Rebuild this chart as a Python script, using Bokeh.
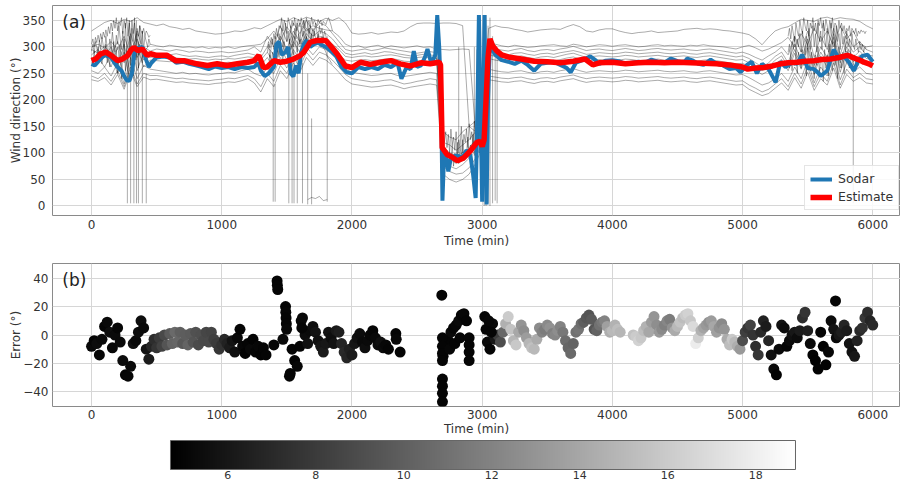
import numpy as np
from bokeh.plotting import figure
from bokeh.layouts import column
from bokeh.models import Range1d, FixedTicker, LinearColorMapper, Label, ColumnDataSource
from bokeh.palettes import Greys256
from bokeh.transform import linear_cmap
from bokeh.core.properties import value
from bokeh.embed import file_html
from bokeh.resources import INLINE

# ---------------------------------------------------------------- data
# ensemble members, sampled every 50 min from 0 to 6000 min
T_ENS = list(range(0, 6001, 50))

m1 = [330, 338, 346, 350, 344, 352, 348, 355, 346, 343,
      340, 343, 338, 336, 333, 335, 330, 328, 326, 324,
      325, 327, 330, 329, 332, 336, 334, 340, 346, 352,
      348, 355, 350, 356, 352, 348, 354, 350, 355, 345,
      326, 324, 325, 327, 324, 326, 328, 327, 330, 338,
      344, 345, 345, 344, 345, 345, 344, 340, 150, 140,
      170, 335, 340, 337, 336, 333, 331, 328, 330, 332,
      333, 334, 333, 338, 342, 338, 330, 328, 332, 334,
      334, 330, 327, 325, 327, 328, 330, 327, 328, 329,
      330, 333, 334, 335, 333, 334, 333, 331, 330, 328,
      326, 323, 315, 304, 318, 330, 335, 338, 345, 352,
      350, 348, 354, 356, 352, 355, 353, 352, 348, 340,
      334]
m2 = [300, 305, 298, 310, 295, 320, 285, 330, 290, 305,
      302, 300, 303, 301, 299, 300, 298, 300, 297, 299,
      298, 300, 297, 300, 302, 303, 305, 315, 330, 312,
      338, 320, 345, 330, 340, 335, 332, 330, 320, 305,
      300, 302, 298, 301, 303, 299, 302, 300, 298, 300,
      302, 299, 300, 296, 295, 294, 295, 296, 295, 140,
      150, 310, 305, 302, 300, 303, 301, 299, 300, 302,
      303, 304, 302, 301, 305, 303, 300, 302, 304, 303,
      301, 303, 304, 302, 300, 301, 303, 304, 302, 303,
      302, 301, 303, 302, 304, 302, 301, 300, 298, 296,
      300, 303, 298, 292, 296, 302, 308, 318, 300, 325,
      305, 335, 310, 330, 300, 340, 315, 330, 305, 300,
      302]
m3 = [295, 288, 302, 285, 310, 270, 325, 280, 300, 292,
      296, 294, 292, 295, 293, 290, 292, 291, 289, 290,
      291, 289, 290, 292, 294, 300, 290, 320, 300, 340,
      310, 345, 325, 350, 330, 345, 340, 325, 310, 295,
      292, 294, 296, 293, 295, 298, 296, 294, 292, 290,
      288, 290, 291, 289, 140, 130, 125, 140, 150, 160,
      175, 300, 296, 294, 292, 295, 297, 293, 291, 294,
      295, 293, 296, 298, 301, 297, 293, 295, 296, 294,
      293, 295, 297, 295, 293, 294, 296, 297, 295, 294,
      295, 296, 294, 293, 295, 296, 294, 292, 290, 288,
      290, 286, 280, 275, 283, 290, 300, 285, 320, 290,
      330, 280, 320, 295, 335, 285, 325, 300, 310, 295,
      290]
m4 = [285, 295, 280, 300, 265, 305, 250, 315, 275, 288,
      287, 286, 285, 287, 284, 282, 283, 281, 280, 282,
      283, 281, 284, 286, 288, 285, 280, 300, 285, 320,
      295, 330, 310, 335, 320, 330, 325, 315, 300, 288,
      285, 287, 289, 286, 288, 291, 290, 287, 285, 283,
      284, 286, 285, 283, 120, 115, 105, 115, 125, 140,
      165, 292, 288, 286, 285, 288, 289, 286, 284, 287,
      288, 286, 289, 291, 293, 290, 286, 287, 289, 288,
      287, 288, 290, 289, 287, 288, 289, 290, 288, 287,
      288, 289, 287, 286, 288, 289, 287, 285, 283, 281,
      283, 278, 270, 262, 270, 282, 290, 270, 305, 275,
      315, 265, 300, 280, 325, 270, 310, 290, 300, 285,
      283]
m5 = [278, 270, 290, 262, 300, 240, 310, 255, 290, 280,
      282, 280, 281, 279, 278, 277, 278, 276, 275, 277,
      276, 278, 277, 279, 281, 280, 275, 290, 270, 310,
      285, 320, 300, 325, 310, 320, 315, 305, 295, 282,
      280, 282, 283, 281, 282, 284, 285, 283, 280, 279,
      280, 281, 279, 278, 110, 100, 95, 100, 110, 125,
      150, 285, 282, 280, 279, 281, 283, 280, 278, 281,
      282, 280, 283, 286, 288, 284, 280, 282, 283, 282,
      281, 282, 284, 283, 281, 282, 283, 284, 282, 281,
      282, 283, 281, 280, 282, 283, 281, 279, 277, 275,
      276, 270, 262, 255, 262, 275, 283, 262, 295, 265,
      305, 255, 290, 270, 318, 260, 300, 280, 292, 278,
      276]
m6 = [270, 280, 262, 285, 250, 290, 235, 300, 262, 275,
      274, 273, 272, 274, 271, 270, 271, 269, 268, 270,
      269, 271, 270, 272, 275, 270, 265, 280, 260, 300,
      275, 310, 290, 318, 300, 312, 308, 298, 285, 275,
      273, 275, 276, 274, 275, 277, 278, 276, 273, 272,
      273, 274, 272, 271, 100, 90, 80, 88, 100, 115,
      140, 278, 275, 273, 272, 274, 276, 273, 271, 274,
      275, 273, 276, 279, 281, 277, 273, 275, 276, 275,
      274, 275, 277, 276, 274, 275, 276, 277, 275, 274,
      275, 276, 274, 273, 275, 276, 274, 272, 270, 268,
      269, 263, 255, 248, 255, 268, 276, 255, 288, 258,
      298, 248, 283, 262, 310, 252, 292, 272, 285, 270,
      268]
m7 = [255, 250, 262, 245, 270, 230, 280, 240, 265, 258,
      256, 254, 252, 250, 252, 249, 250, 248, 247, 249,
      250, 252, 251, 255, 258, 250, 245, 260, 250, 280,
      260, 295, 275, 300, 285, 300, 295, 285, 272, 258,
      252, 250, 248, 246, 247, 249, 250, 246, 244, 246,
      248, 250, 252, 250, 90, 75, 70, 78, 90, 105,
      130, 258, 255, 253, 252, 254, 255, 252, 250, 253,
      254, 252, 255, 257, 259, 255, 252, 254, 255, 254,
      253, 254, 256, 255, 253, 254, 255, 256, 254, 253,
      254, 255, 253, 252, 254, 255, 253, 251, 249, 247,
      248, 242, 235, 228, 232, 240, 250, 235, 262, 240,
      275, 232, 262, 245, 285, 238, 270, 252, 262, 250,
      248]
m8 = [245, 240, 250, 235, 255, 225, 262, 230, 250, 246,
      246, 244, 242, 240, 241, 239, 238, 237, 236, 238,
      239, 241, 240, 243, 246, 240, 225, 250, 235, 265,
      250, 280, 262, 290, 275, 290, 285, 275, 262, 248,
      240, 238, 236, 234, 235, 237, 238, 234, 230, 232,
      235, 237, 240, 238, 75, 65, 60, 62, 72, 90,
      120, 245, 243, 241, 240, 242, 243, 240, 238, 241,
      242, 240, 243, 245, 247, 243, 240, 242, 243, 242,
      241, 242, 244, 243, 241, 242, 243, 244, 242, 241,
      242, 243, 241, 240, 242, 243, 241, 239, 237, 235,
      236, 228, 222, 215, 220, 230, 240, 225, 250, 230,
      262, 225, 250, 235, 270, 228, 258, 242, 250, 240,
      238]
m9 = [238, 235, 242, 228, 248, 220, 255, 225, 243, 238,
      239, 237, 235, 233, 234, 232, 231, 230, 229, 231,
      232, 234, 233, 236, 240, 232, 215, 240, 225, 255,
      240, 270, 252, 280, 265, 280, 275, 265, 252, 238,
      230, 228, 226, 224, 225, 227, 228, 225, 221, 224,
      226, 228, 230, 228, 60, 50, 45, 50, 60, 80,
      110, 238, 236, 234, 233, 235, 236, 233, 231, 234,
      235, 233, 236, 238, 240, 236, 233, 235, 236, 235,
      234, 235, 237, 236, 234, 235, 236, 237, 235, 234,
      235, 236, 234, 233, 235, 236, 234, 232, 230, 228,
      229, 220, 214, 208, 212, 222, 232, 218, 242, 222,
      252, 218, 240, 228, 260, 222, 248, 235, 242, 232,
      230]
members = [m1, m2, m3, m4, m5, m6, m7, m8, m9]

# gusty spells: members sampled every 10 min
T_GUST_1 = list(range(0, 451, 10))
g1a = [292, 305, 288, 310, 298, 285, 312, 295, 318, 302,
       290, 320, 298, 285, 315, 300, 328, 305, 290, 322,
       305, 340, 315, 295, 330, 285, 345, 300, 320, 350,
       290, 335, 310, 355, 300, 325, 285, 340, 305, 330,
       295, 320, 310, 300, 315, 305]
g1b = [280, 270, 292, 265, 285, 300, 275, 290, 268, 295,
       280, 305, 270, 290, 262, 300, 278, 310, 265, 295,
       250, 285, 305, 240, 290, 315, 255, 300, 235, 320,
       265, 295, 245, 310, 275, 290, 260, 305, 280, 270,
       295, 285, 275, 290, 280, 286]
g1c = [305, 315, 300, 318, 308, 322, 310, 325, 315, 328,
       318, 332, 320, 338, 325, 345, 330, 350, 335, 355,
       330, 348, 340, 355, 325, 350, 335, 355, 320, 345,
       310, 350, 325, 345, 310, 335, 320, 340, 330, 325,
       335, 320, 330, 325, 318, 322]

T_GUST_2 = list(range(1350, 1851, 10))
g2a = [290, 305, 280, 300, 315, 295, 320, 305, 290, 325,
       310, 335, 300, 320, 345, 310, 330, 305, 340, 320,
       300, 335, 315, 345, 325, 305, 340, 320, 350, 330,
       310, 345, 325, 340, 315, 335, 320, 345, 330, 310,
       340, 325, 335, 315, 330, 320, 310, 300, 295, 290,
       285]
g2b = [270, 260, 285, 265, 290, 275, 300, 270, 295, 280,
       305, 285, 275, 310, 290, 300, 280, 315, 295, 305,
       285, 320, 300, 290, 325, 305, 315, 295, 330, 310,
       320, 300, 335, 315, 325, 305, 330, 318, 310, 325,
       312, 305, 320, 300, 295, 290, 282, 278, 275, 270,
       268]
g2c = [300, 310, 298, 318, 305, 325, 315, 335, 320, 340,
       335, 355, 330, 350, 340, 325, 355, 345, 335, 350,
       340, 355, 330, 348, 352, 338, 355, 342, 350, 335,
       355, 345, 350, 338, 356, 342, 350, 345, 340, 352,
       345, 350, 340, 348, 345, 342, 350, 355, 348, 340,
       330]

T_GUST_3 = list(range(2700, 3001, 10))
g3a = [150, 120, 140, 110, 135, 100, 145, 115, 130, 105,
       140, 95, 125, 110, 150, 100, 135, 120, 145, 110,
       155, 125, 140, 115, 160, 130, 150, 120, 165, 140,
       170]
g3b = [90, 110, 80, 105, 70, 95, 85, 115, 75, 100,
       90, 120, 80, 110, 95, 125, 85, 105, 100, 130,
       90, 115, 105, 135, 95, 120, 110, 140, 100, 125,
       150]

T_GUST_4 = list(range(5350, 5951, 10))
g4a = [290, 305, 280, 310, 295, 320, 285, 315, 300, 325,
       290, 330, 305, 285, 320, 300, 335, 295, 315, 340,
       300, 325, 290, 345, 310, 330, 295, 350, 315, 300,
       335, 290, 320, 345, 305, 330, 285, 340, 310, 325,
       295, 335, 305, 320, 290, 330, 300, 315, 285, 325,
       305, 295, 315, 300, 290, 310, 295, 305, 290, 300,
       295]
g4b = [270, 260, 280, 255, 275, 265, 285, 250, 290, 270,
       260, 295, 265, 280, 245, 300, 270, 255, 290, 275,
       240, 285, 265, 300, 250, 280, 270, 235, 295, 260,
       285, 245, 305, 270, 255, 290, 265, 280, 240, 300,
       275, 260, 290, 250, 285, 270, 295, 260, 280, 275,
       265, 285, 270, 280, 265, 275, 270, 280, 272, 268,
       270]
g4c = [320, 335, 315, 340, 325, 310, 345, 330, 320, 350,
       335, 325, 355, 340, 330, 350, 320, 345, 335, 355,
       330, 345, 325, 350, 340, 355, 335, 345, 330, 352,
       340, 325, 350, 335, 355, 330, 345, 340, 325, 350,
       335, 345, 330, 340, 325, 335, 330, 340, 320, 335,
       330, 325, 335, 320, 330, 325, 332, 328, 330, 325,
       330]

gusts = [(T_GUST_1, g1a), (T_GUST_1, g1b), (T_GUST_1, g1c),
         (T_GUST_2, g2a), (T_GUST_2, g2b), (T_GUST_2, g2c),
         (T_GUST_3, g3a), (T_GUST_3, g3b),
         (T_GUST_4, g4a), (T_GUST_4, g4b), (T_GUST_4, g4c)]

# members jumping across north (360 -> 0): time, lower and upper end
wrap_t = [275, 300, 325, 345, 360, 390, 420,
          1395, 1410, 1515, 1540, 1555, 1580, 1620, 1660, 1690, 1810,
          2820, 2940, 2960, 3015, 3030, 3045, 3060, 3080, 3100, 3115, 5850]
wrap_lo = [5, 5, 5, 5, 5, 5, 5,
           8, 8, 5, 5, 5, 5, 5, 3, 3, 8,
           100, 110, 110, 0, 0, 5, 0, 5, 10, 5, 5]
wrap_hi = [240, 290, 300, 350, 310, 330, 250,
           260, 230, 300, 320, 290, 310, 270, 250, 165, 320,
           300, 300, 295, 350, 360, 340, 355, 320, 300, 280, 260]

# one member sitting just east of north for a while
low_t = [1660, 1690, 1720, 1750, 1780, 1810]
low_v = [12, 16, 14, 18, 10, 12]

# sodar wind direction (deg)
sod_t = [0, 25, 50, 100, 150, 175, 200, 230, 250, 270,
         290, 310, 330, 360, 390, 420, 440, 460, 500, 550,
         600, 650, 700, 750, 800, 850, 900, 950, 1000, 1050,
         1100, 1150, 1200, 1250, 1280, 1300, 1330, 1360, 1400, 1420,
         1440, 1460, 1490, 1510, 1530, 1550, 1570, 1590, 1610, 1630,
         1650, 1680, 1710, 1740, 1770, 1800, 1840, 1880, 1920, 1960,
         2000, 2050, 2100, 2150, 2200, 2250, 2300, 2350, 2380, 2420,
         2450, 2475, 2500, 2530, 2560, 2580, 2610, 2640, 2655, 2670,
         2685, 2695, 2705, 2720, 2740, 2760, 2800, 2850, 2880, 2910,
         2930, 2950, 2965, 2975, 2990, 3000, 3010, 3018, 3027, 3034,
         3045, 3060, 3080, 3100, 3150, 3200, 3250, 3300, 3350, 3400,
         3450, 3500, 3550, 3600, 3650, 3680, 3720, 3780, 3830, 3870,
         3900, 3950, 4000, 4050, 4100, 4150, 4200, 4250, 4300, 4350,
         4400, 4450, 4500, 4550, 4575, 4620, 4660, 4700, 4755, 4800,
         4850, 4900, 4950, 4985, 5030, 5070, 5110, 5150, 5200, 5254,
         5290, 5330, 5380, 5420, 5458, 5500, 5548, 5586, 5600, 5650,
         5700, 5740, 5780, 5820, 5855, 5890, 5920, 5960, 6000]
sod_v = [268, 265, 272, 285, 280, 270, 262, 255, 245, 237,
         236, 250, 292, 298, 300, 275, 262, 270, 280, 282,
         280, 270, 272, 268, 265, 262, 258, 263, 260, 262,
         258, 262, 260, 262, 270, 255, 245, 250, 262, 305,
         310, 285, 290, 300, 250, 244, 265, 250, 290, 305,
         312, 300, 305, 308, 303, 300, 292, 282, 262, 252,
         250, 262, 258, 262, 258, 266, 262, 270, 240, 262,
         258, 292, 262, 265, 280, 296, 268, 285, 360, 300,
         200, 10, 80, 100, 65, 90, 95, 92, 105, 95,
         60, 15, 200, 360, 150, 8, 200, 360, 150, 3,
         200, 310, 295, 285, 275, 272, 268, 274, 266, 255,
         268, 270, 272, 266, 260, 252, 270, 276, 282, 275,
         268, 274, 275, 273, 268, 270, 272, 270, 276, 272,
         270, 278, 273, 270, 278, 274, 268, 266, 276, 268,
         265, 258, 260, 252, 265, 272, 250, 268, 258, 233,
         272, 262, 270, 268, 285, 260, 258, 250, 245, 255,
         295, 278, 282, 270, 255, 275, 283, 285, 272]

# estimated wind direction (deg)
est_t = [0, 30, 70, 110, 150, 200, 235, 275, 300, 325,
         356, 390, 427, 453, 500, 580, 645, 710, 810, 890,
         965, 1040, 1120, 1200, 1250, 1285, 1320, 1350, 1400, 1450,
         1500, 1550, 1600, 1630, 1680, 1730, 1800, 1835, 1885, 1950,
         2000, 2065, 2140, 2220, 2300, 2370, 2450, 2530, 2600, 2670,
         2680, 2693, 2730, 2770, 2810, 2860, 2910, 2960, 2985, 3000,
         3015, 3030, 3045, 3060, 3080, 3110, 3150, 3200, 3300, 3400,
         3500, 3600, 3700, 3790, 3850, 3900, 4000, 4100, 4200, 4300,
         4400, 4500, 4600, 4700, 4800, 4900, 5000, 5040, 5100, 5164,
         5230, 5292, 5350, 5420, 5480, 5548, 5610, 5676, 5740, 5804,
         5830, 5855, 5900, 5932, 5970, 6000]
est_v = [274, 277, 287, 290, 284, 274, 277, 283, 293, 299,
         293, 296, 284, 287, 284, 284, 274, 274, 268, 265,
         268, 265, 268, 271, 274, 284, 261, 262, 274, 271,
         273, 277, 283, 290, 309, 312, 312, 302, 287, 264,
         261, 271, 267, 271, 274, 268, 264, 270, 268, 271,
         266, 110, 97, 92, 85, 91, 104, 120, 122, 112,
         125, 200, 280, 315, 302, 293, 285, 281, 277, 273,
         272, 270, 273, 277, 266, 270, 271, 268, 270, 271,
         270, 271, 270, 269, 268, 266, 262, 258, 260, 261,
         264, 268, 270, 271, 273, 274, 276, 277, 280, 284,
         282, 279, 275, 271, 268, 264]

# error (deg) and wind speed (m/s) on regular 20-min stretches
err_a_t = list(range(0, 1321, 20))
err_a = [-8, -4, -6, -14, -3, 6, 9, 2, -9, 0,
         5, -5, -18, -28, -29, -22, -6, -4, 2, 10,
         5, -10, -17, -8, -3, -9, -2, -8, 0, -7,
         1, -6, 2, -5, 2, -6, 0, -7, 1, -5,
         2, -7, 0, -4, 2, -5, 2, -3, -6, -10,
         -7, -3, -6, -9, -4, -12, -2, 4, -8, -13,
         -6, -10, -3, -12, -8, -14, -9]
spd_a = [5.2, 5.0, 5.4, 5.1, 5.3, 5.0, 5.2, 5.5, 5.1, 5.3,
         5.0, 5.2, 5.4, 5.0, 5.1, 5.3, 5.6, 5.2, 5.4, 5.5,
         5.3, 5.8, 6.2, 6.8, 7.2, 7.6, 8.0, 8.4, 8.8, 9.4,
         9.8, 10.2, 10.6, 10.4, 10.0, 9.6, 9.9, 10.3, 9.8, 9.4,
         9.2, 8.9, 9.1, 8.8, 8.6, 8.8, 8.5, 8.2, 8.0, 7.8,
         7.5, 7.0, 6.6, 6.2, 5.8, 5.5, 5.2, 5.0, 5.1, 4.9,
         5.0, 5.2, 4.9, 5.0, 5.1, 4.9, 5.0]

err_b_t = list(range(1540, 2281, 20))
err_b = [-10, -18, -22, -8, 12, 0, -6, 3, 6, 2,
         -4, -8, -12, -6, 2, -2, -6, 3, 2, -6,
         -12, -16, -10, -14, -6, -2, 1, -5, -9, -4,
         0, 3, -2, -7, -5, -9, -7, -10]
spd_b = [5.0, 4.9, 5.1, 5.0, 5.2, 5.4, 5.6, 5.3, 5.5, 5.8,
         5.6, 5.9, 6.2, 6.0, 5.7, 5.5, 5.8, 6.1, 6.4, 6.8,
         7.0, 6.8, 6.5, 6.2, 5.9, 5.6, 5.4, 5.2, 5.5, 5.3,
         5.1, 5.0, 5.2, 5.4, 5.6, 5.3, 5.1, 5.0]

err_c_t = list(range(2700, 2881, 20))
err_c = [-15, -9, -4, 2, 5, 7, 10, 14, 15, 10]
spd_c = [5.0, 5.1, 5.0, 5.2, 5.0, 5.1, 5.3, 5.0, 5.1, 5.0]

err_d_t = list(range(3020, 4061, 20))
err_d = [13, -5, -10, 8, -3, 0, -5, 2, 8, 13,
         4, -4, -7, 2, 7, 3, -2, -6, -9, -10,
         -3, 5, 2, 4, 7, 5, 1, 0, 3, 6,
         2, -4, -9, -13, -6, 2, 4, 8, 9, 12,
         14, 11, 4, 3, 7, 9, 10, 6, 2, 3,
         7, 4, 2]
spd_d = [5.0, 5.2, 5.0, 5.3, 6.0, 8.0, 9.0, 10.5, 14.5, 16.0,
         15.5, 14.8, 15.8, 14.0, 13.0, 12.6, 13.4, 14.8, 15.4, 15.0,
         14.2, 12.5, 12.0, 11.6, 12.4, 12.8, 11.8, 12.2, 12.6, 12.0,
         11.4, 10.8, 10.4, 10.6, 10.2, 11.0, 11.2, 10.8, 10.0, 9.6,
         9.4, 9.8, 9.5, 10.2, 11.0, 11.4, 12.0, 13.6, 14.4, 15.0,
         14.6, 15.2, 14.8]

err_e_t = list(range(4160, 6001, 20))
err_e = [0, -1, -4, -2, 3, 6, 2, 9, 13, 7,
         2, 4, 7, 10, 11, 5, 3, 6, 9, 12,
         14, 15, 10, 6, -6, -2, 3, 5, 7, 9,
         10, 6, 2, 5, 8, 4, -3, -7, -3, -5,
         -8, -10, -4, 2, 5, 7, 0, -8, -14, 2,
         10, 6, -4, -14, -24, -28, -10, 7, 5, -8,
         -4, 0, 2, -2, 3, 12, 16, 3, -6, -14,
         -18, -24, 2, -8, -21, -12, 10, 4, -2, 0,
         2, 7, 3, -6, -12, -15, -4, 3, 5, 12,
         16, 10, 7]
spd_e = [15.5, 16.0, 16.4, 15.8, 15.2, 14.6, 14.0, 13.4, 13.0, 12.6,
         13.2, 12.4, 11.8, 12.2, 11.6, 12.8, 14.2, 15.0, 15.6, 15.2,
         16.0, 16.4, 15.8, 16.8, 17.8, 16.2, 14.6, 13.8, 13.2, 12.8,
         13.4, 14.0, 13.6, 12.8, 12.4, 13.0, 14.2, 15.2, 15.8, 15.0,
         14.4, 13.2, 9.0, 8.2, 7.8, 8.4, 7.6, 7.2, 7.8, 7.0,
         6.6, 6.2, 6.8, 5.6, 5.2, 4.9, 5.2, 5.8, 5.4, 5.0,
         5.3, 5.6, 6.0, 5.4, 6.2, 7.2, 7.6, 6.4, 5.2, 4.9,
         4.8, 4.9, 5.0, 4.8, 4.9, 5.1, 5.4, 5.8, 5.2, 6.0,
         6.4, 6.8, 6.2, 5.8, 5.6, 6.0, 6.6, 7.0, 7.4, 7.8,
         7.2, 6.8, 7.0]

# isolated points and vertical spreads
err_x_t = [1340, 1400, 1425, 1427, 1430, 1470, 1490, 1492, 1494, 1496,
           1498, 1520, 1526, 1610, 1615, 2337, 2340, 2370, 2690, 2695,
           2695, 2695, 2695, 2695, 2695, 2695, 2695, 2750, 2790, 2830,
           2900, 2900, 2900, 2900, 3030, 3050, 3070, 5714]
err_x = [-14, -7, 38, 35, 32, -3, 20, 16, 12, 8,
         4, -29, -27, 10, 5, 1, -3, -12, 28, -2,
         -8, -13, -18, -31, -36, -41, -47, -10, -6, -2,
         -2, -7, -12, -18, 4, 10, 2, 24]
spd_x = [5.0, 5.1, 5.0, 5.0, 5.0, 5.2, 5.0, 5.1, 5.0, 5.0,
         5.1, 5.0, 5.0, 5.2, 5.0, 5.0, 5.1, 5.0, 5.0, 5.0,
         5.0, 5.0, 5.0, 5.0, 5.0, 5.0, 5.0, 5.1, 5.0, 5.0,
         5.0, 5.0, 5.0, 5.0, 5.0, 5.1, 5.0, 5.0]

TIME_TICKS = [0, 1000, 2000, 3000, 4000, 5000, 6000]
DIR_TICKS = [0, 50, 100, 150, 200, 250, 300, 350]
ERR_TICKS = [-40, -20, 0, 20, 40]
SPEED_TICKS = [6, 8, 10, 12, 14, 16, 18]
SPEED_LOW, SPEED_HIGH = 4.7, 18.9

# ---------------------------------------------------------------- style
FONT = "DejaVu Sans"
TEXT = "#333333"
GRID = "#d6d6d6"
FRAME = "#8a8a8a"
ENS_ALPHA = 0.33


def style_axes(p):
    p.outline_line_color = FRAME
    p.outline_line_width = 1
    p.xgrid.grid_line_color = GRID
    p.ygrid.grid_line_color = GRID
    for ax in p.axis:
        ax.axis_line_color = None
        ax.major_tick_line_color = None
        ax.minor_tick_line_color = None
        ax.major_tick_out = 0
        ax.major_label_text_font = FONT
        ax.major_label_text_font_size = "12px"
        ax.major_label_text_color = TEXT
        ax.axis_label_text_font = FONT
        ax.axis_label_text_font_size = "12px"
        ax.axis_label_text_font_style = "normal"
        ax.axis_label_text_color = TEXT


mapper = LinearColorMapper(palette=Greys256, low=SPEED_LOW, high=SPEED_HIGH)

# ---------------------------------------------------------------- (a) wind direction
pa = figure(width=900, height=250, output_backend="svg", toolbar_location=None,
            x_range=Range1d(-300, 6213), y_range=Range1d(-18, 378),
            min_border_left=52, min_border_right=0, min_border_top=5, min_border_bottom=35)
style_axes(pa)

ens_xs = [T_ENS[:len(m)] for m in members] + [t[:len(g)] for t, g in gusts]
ens_ys = members + [g for _, g in gusts]
ens_src = ColumnDataSource(dict(xs=ens_xs, ys=ens_ys))
pa.multi_line(xs="xs", ys="ys", source=ens_src, line_color="black", line_alpha=ENS_ALPHA, line_width=1)
pa.segment(x0=wrap_t, y0=wrap_lo, x1=wrap_t, y1=wrap_hi, line_color="black", line_alpha=ENS_ALPHA, line_width=1)
pa.line(low_t, low_v, line_color="black", line_alpha=ENS_ALPHA, line_width=1)

pa.line(sod_t, sod_v, line_color="#1f77b4", line_width=4, legend_label="Sodar")
pa.line(est_t, est_v, line_color="#ff0000", line_width=5.5, legend_label="Estimate")

pa.xaxis.ticker = FixedTicker(ticks=TIME_TICKS)
pa.yaxis.ticker = FixedTicker(ticks=DIR_TICKS)
pa.xaxis.axis_label = "Time (min)"
pa.yaxis.axis_label = "Wind direction (°)"
pa.xaxis.major_label_standoff = 4
pa.xaxis.axis_label_standoff = 2
pa.yaxis.major_label_standoff = 7
pa.yaxis.axis_label_standoff = -3

pa.add_layout(Label(x=-225, y=366, text="(a)", text_font=FONT, text_font_size="17px",
                    text_color="#222222", text_baseline="top"))

lg = pa.legend[0]
lg.location = (752, 5)
lg.label_text_font = FONT
lg.label_text_font_size = "12.5px"
lg.label_text_color = TEXT
lg.border_line_color = "#cccccc"
lg.background_fill_alpha = 0.85
lg.glyph_width = 22
lg.glyph_height = 12
lg.label_standoff = 6
lg.label_height = 14
lg.padding = 5
lg.spacing = 3
lg.margin = 0

# ---------------------------------------------------------------- (b) error coloured by wind speed
pb = figure(width=900, height=188, output_backend="svg", toolbar_location=None,
            x_range=Range1d(-300, 6213), y_range=Range1d(-50.3, 50.3),
            min_border_left=52, min_border_right=0, min_border_top=13, min_border_bottom=30)
style_axes(pb)

pts_t, pts_e, pts_s = [], [], []
for ts, es, ss in [(err_a_t, err_a, spd_a), (err_b_t, err_b, spd_b), (err_c_t, err_c, spd_c),
                   (err_d_t, err_d, spd_d), (err_e_t, err_e, spd_e), (err_x_t, err_x, spd_x)]:
    for t, e, s in zip(ts, es, ss):
        pts_t.append(t)
        pts_e.append(e)
        pts_s.append(s)
err_src = ColumnDataSource(dict(t=pts_t, e=pts_e, s=pts_s))
pb.scatter(x="t", y="e", source=err_src, size=11, line_color=None,
           fill_color=linear_cmap("s", Greys256, SPEED_LOW, SPEED_HIGH))

pb.xaxis.ticker = FixedTicker(ticks=TIME_TICKS)
pb.yaxis.ticker = FixedTicker(ticks=ERR_TICKS)
pb.yaxis.major_label_overrides = {-40: "\u221240", -20: "\u221220"}
pb.xaxis.axis_label = "Time (min)"
pb.yaxis.axis_label = "Error (°)"
pb.xaxis.major_label_standoff = 3
pb.xaxis.axis_label_standoff = 0
pb.yaxis.major_label_standoff = 4
pb.yaxis.axis_label_standoff = -3

pb.add_layout(Label(x=-225, y=46, text="(b)", text_font=FONT, text_font_size="17px",
                    text_color="#222222", text_baseline="top"))

# ---------------------------------------------------------------- colour bar for wind speed
# same frame edges as the panels above (the column aligns them); the speed
# range is scaled so that the bar spans 4.7..18.9 under the panels
pc = figure(width=900, height=46, output_backend="svg", toolbar_location=None,
            x_range=Range1d(2.019, 21.286), y_range=Range1d(-0.517, 1.069),
            min_border_left=52, min_border_right=0, min_border_top=0, min_border_bottom=0)
pc.axis.visible = False
pc.grid.visible = False
pc.outline_line_color = None

ramp = np.linspace(SPEED_LOW, SPEED_HIGH, 256).reshape(1, -1)
pc.image(image=[ramp], x=SPEED_LOW, y=0, dw=SPEED_HIGH - SPEED_LOW, dh=1, color_mapper=mapper)
pc.quad(left=[SPEED_LOW], right=[SPEED_HIGH], bottom=[0], top=[1],
        fill_color=None, line_color="#666666", line_width=1)
pc.text(x=SPEED_TICKS, y=[-0.04] * len(SPEED_TICKS), text=[str(v) for v in SPEED_TICKS],
        text_font=value(FONT), text_font_size="11px", text_color=TEXT,
        text_align="center", text_baseline="top")

layout = column(pa, pb, pc, spacing=0)
open("out.html", "w").write(file_html(layout, INLINE))
